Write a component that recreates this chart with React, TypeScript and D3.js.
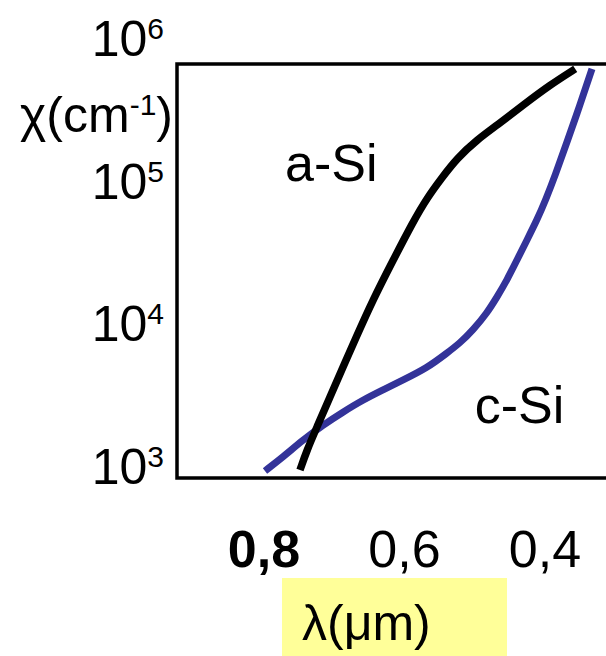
import React from "react";
import * as d3 from "d3";

// Wavelength (µm) and absorption coefficient (cm^-1)
const aSiLambda = [0.7488, 0.7388, 0.7246, 0.7061, 0.6875, 0.6705, 0.645, 0.616, 0.588, 0.568, 0.547, 0.525, 0.497, 0.468, 0.431, 0.393, 0.357];
const aSiAlpha = [937, 1295, 1876, 3050, 4940, 7640, 14600, 27800, 51300, 75500, 104500, 144000, 193000, 245000, 339000, 468000, 607000];

const cSiLambda = [0.7986, 0.773, 0.7445, 0.716, 0.6876, 0.6591, 0.6306, 0.6021, 0.568, 0.5395, 0.521, 0.5025, 0.4826, 0.4683, 0.4541, 0.4399, 0.4256, 0.4114, 0.3986, 0.3858, 0.3687, 0.3502, 0.3331];
const cSiAlpha = [923, 1157, 1521, 1937, 2388, 2904, 3414, 4010, 4864, 6194, 7280, 8980, 11800, 15300, 20100, 27800, 38400, 53000, 74300, 107900, 186600, 339000, 607000];

const yTicks = [1e3, 1e4, 1e5, 1e6];
const yTickExp = ["3", "4", "5", "6"];
const xTicks = [0.8, 0.6, 0.4];
const xTickLabels = ["0,8", "0,6", "0,4"];
const xTickBold = [true, false, false];

const seriesNames = ["a-Si", "c-Si"];
const seriesColors = ["#000000", "#333399"];
const labelLambda = [0.77, 0.50];
const labelAlpha = [1.0e5, 2.0e3];

const W = 606;
const H = 656;
const FONT = "'Liberation Sans', Arial, Helvetica, sans-serif";

export default function App() {
  const x = d3.scaleLinear().domain([0.8, 0.4]).range([264, 545]);
  const y = d3.scaleLog().domain([1e3, 1e6]).range([466, 38]);

  const frame = { left: 177, top: 64, bottom: 478, right: 620 };

  const line = d3
    .line<[number, number]>()
    .x((d) => x(d[0]))
    .y((d) => y(d[1]))
    .curve(d3.curveBasis);

  const aSi: [number, number][] = aSiLambda.map((l, i) => [l, aSiAlpha[i]]);
  const cSi: [number, number][] = cSiLambda.map((l, i) => [l, cSiAlpha[i]]);

  return (
    <svg
      width={W}
      height={H}
      style={{ position: "absolute", left: 0, top: 0, background: "#fff" }}
      fontFamily={FONT}
    >
      <rect x={0} y={0} width={W} height={H} fill="#fff" />
      {/* frame */}
      <path
        d={`M${frame.right},${frame.top}H${frame.left}V${frame.bottom}H${frame.right}`}
        fill="none"
        stroke="#000"
        strokeWidth={3.5}
      />
      {/* curves */}
      <path d={line(cSi) || ""} fill="none" stroke={seriesColors[1]} strokeWidth={7} />
      <path d={line(aSi) || ""} fill="none" stroke={seriesColors[0]} strokeWidth={7.5} />

      {/* series labels */}
      {seriesNames.map((n, i) => (
        <text key={n} x={x(labelLambda[i])} y={y(labelAlpha[i])} fontSize={52} fill="#000">
          {n}
        </text>
      ))}

      {/* y tick labels */}
      {yTicks.map((t, i) => (
        <text key={t} x={164} y={y(t) + 18} fontSize={50} textAnchor="end" fill="#000">
          10
          <tspan fontSize={30} dy={-17}>
            {yTickExp[i]}
          </tspan>
        </text>
      ))}

      {/* y axis title */}
      <text x={173} y={132} fontSize={50} textAnchor="end" fill="#000">
        χ(cm
        <tspan fontSize={30} dy={-17}>
          -1
        </tspan>
        <tspan dy={17}>)</tspan>
      </text>

      {/* x tick labels */}
      {xTicks.map((t, i) => (
        <text
          key={t}
          x={x(t)}
          y={567}
          fontSize={52}
          textAnchor="middle"
          fontWeight={xTickBold[i] ? "bold" : "normal"}
          fill="#000"
        >
          {xTickLabels[i]}
        </text>
      ))}

      {/* x axis title */}
      <rect x={282} y={578} width={225} height={78} fill="#FFFF99" />
      <text x={302} y={640} fontSize={50} fill="#000">
        λ(μm)
      </text>
    </svg>
  );
}
